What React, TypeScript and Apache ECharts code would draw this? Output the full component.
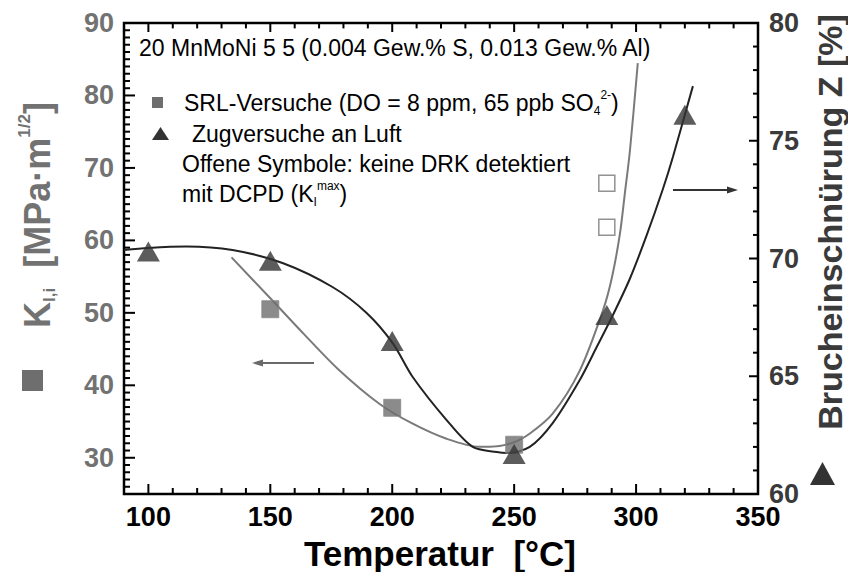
import React, { useEffect, useRef } from 'react';
import * as echarts from 'echarts';

// ---- tick labels / tick positions ----
const xTicksMajor = [100, 150, 200, 250, 300, 350];
const xTicksMinor = [110, 120, 130, 140, 160, 170, 180, 190, 210, 220, 230, 240, 260, 270, 280, 290, 310, 320, 330, 340];
const kTicksMajor = [30, 40, 50, 60, 70, 80, 90];
const zTicksMajor = [60, 65, 70, 75, 80];

// ---- SRL tests (K_I,i, left axis) ----
const srlTemp = [150, 200, 250];
const srlK = [50.5, 36.9, 31.8];
const srlOpenTemp = [288, 288];
const srlOpenK = [67.9, 61.8];

// ---- tensile tests in air (Z, right axis) ----
const zugTemp = [100, 150, 200, 250, 288, 320];
const zugZ = [70.3, 69.9, 66.5, 61.7, 67.6, 76.1];

// ---- fitted curves ----
const srlFitTemp = [134.1, 150.1, 164.0, 177.6, 194.7, 208.4, 222.3, 235.9, 240.0, 249.4, 256.3, 265.8, 276.9, 286.4, 290.1, 293.4, 295.4, 297.5, 300.7];
const srlFitK = [57.65, 51.98, 47.0, 42.3, 37.46, 34.7, 32.62, 31.52, 31.52, 32.07, 33.31, 36.08, 42.03, 50.32, 54.88, 60.97, 66.5, 72.44, 84.47];
const zugFitTemp = [90, 100, 115.6, 134.5, 155.0, 175.5, 189.5, 200.2, 208.4, 222.3, 233.0, 242.9, 247.0, 256.4, 265.8, 276.9, 283.9, 290.5, 297.4, 304.4, 311.0, 315.1, 323.3];
const zugFitZ = [70.36, 70.45, 70.51, 70.36, 69.81, 68.79, 67.69, 66.41, 64.97, 63.14, 62.0, 61.78, 61.74, 62.0, 63.01, 64.84, 66.25, 67.6, 69.13, 71.0, 72.95, 74.31, 77.32];

const FONT = 'Liberation Sans, Arial, sans-serif';
const GREY = '#727272';
const DARK = '#333333';
const X_MIN = 90, X_MAX = 350, K_MIN = 25, K_MAX = 90, Z_MIN = 60, Z_MAX = 80;

const zip = (a: number[], b: number[]) => a.map((v, i) => [v, b[i]]);
function wholeStepsExcept(a: number, b: number, skip: number[]) {
  const r: number[] = [];
  for (let v = a; v <= b; v += 1) if (skip.indexOf(v) < 0) r.push(v);
  return r;
}
const kTicksMinor = wholeStepsExcept(K_MIN, K_MAX, kTicksMajor);
const zTicksMinor = wholeStepsExcept(Z_MIN, Z_MAX, zTicksMajor);

const tickStyle = { stroke: '#000', lineWidth: 2 };
const seg = (x1: number, y1: number, x2: number, y2: number) => ({ type: 'line', shape: { x1, y1, x2, y2 }, style: tickStyle });

// ticks of the x axes (bottom + top) and the left K axis, placed with the axes' scales
function renderKTicks(_params: any, api: any) {
  const children: any[] = [];
  const xt = (list: number[], len: number) => list.forEach((v) => {
    const b = api.coord([v, K_MIN]);
    const t = api.coord([v, K_MAX]);
    children.push(seg(b[0], b[1], b[0], b[1] - len));
    children.push(seg(t[0], t[1], t[0], t[1] + len * 0.9));
  });
  xt(xTicksMajor, 10);
  xt(xTicksMinor, 6);
  const yt = (list: number[], len: number) => list.forEach((v) => {
    const p = api.coord([X_MIN, v]);
    children.push(seg(p[0], p[1], p[0] + len, p[1]));
  });
  yt(kTicksMajor, 11);
  yt(kTicksMinor, 6);
  return { type: 'group', children };
}
// ticks of the right Z axis
function renderZTicks(_params: any, api: any) {
  const children: any[] = [];
  const yt = (list: number[], len: number) => list.forEach((v) => {
    const p = api.coord([X_MAX, v]);
    children.push(seg(p[0], p[1], p[0] - len, p[1]));
  });
  yt(zTicksMajor, 9);
  yt(zTicksMinor, 5);
  return { type: 'group', children };
}

const textLine = (x: number, y: number, text: string) => ({
  type: 'text', x, y, z: 100,
  style: {
    text, fill: '#000', fontSize: 23, fontFamily: FONT, align: 'left', verticalAlign: 'middle', lineHeight: 28,
    rich: {
      sub: { fontSize: 12, fontFamily: FONT, lineHeight: 12, verticalAlign: 'bottom', fill: '#000' },
      sup: { fontSize: 12, fontFamily: FONT, lineHeight: 12, verticalAlign: 'top', fill: '#000' },
    },
  },
});

const hiddenAxisParts = { splitLine: { show: false }, axisLine: { show: false, onZero: false }, axisTick: { show: false } };

const option: any = {
  animation: false,
  backgroundColor: '#fff',
  grid: { left: 124, right: 90, top: 23, bottom: 78, show: true, borderColor: '#000', borderWidth: 2.5, backgroundColor: 'transparent' },
  xAxis: [
    {
      type: 'value', min: X_MIN, max: X_MAX, position: 'bottom', ...hiddenAxisParts,
      axisLabel: { customValues: xTicksMajor, color: '#000', fontSize: 27, fontWeight: 'bold', fontFamily: FONT, margin: 9 },
    },
  ],
  yAxis: [
    {
      type: 'value', min: K_MIN, max: K_MAX, position: 'left', ...hiddenAxisParts,
      axisLabel: { customValues: kTicksMajor, color: GREY, fontSize: 27, fontWeight: 'bold', fontFamily: FONT, margin: 10 },
    },
    {
      type: 'value', min: Z_MIN, max: Z_MAX, position: 'right', ...hiddenAxisParts,
      axisLabel: { customValues: zTicksMajor, color: '#3a3a3a', fontSize: 27, fontWeight: 'bold', fontFamily: FONT, margin: 11 },
    },
  ],
  series: [
    // axis ticks
    { type: 'custom', xAxisIndex: 0, yAxisIndex: 0, data: [[X_MIN, K_MIN]], renderItem: renderKTicks, silent: true, clip: false, z: 3 },
    { type: 'custom', xAxisIndex: 0, yAxisIndex: 1, data: [[X_MAX, Z_MIN]], renderItem: renderZTicks, silent: true, clip: false, z: 3 },
    // fitted curves
    {
      type: 'line', xAxisIndex: 0, yAxisIndex: 0, data: zip(srlFitTemp, srlFitK),
      showSymbol: false, smooth: 0.3, lineStyle: { color: '#7a7a7a', width: 2 }, z: 2,
    },
    {
      type: 'line', xAxisIndex: 0, yAxisIndex: 1, data: zip(zugFitTemp, zugFitZ),
      showSymbol: false, smooth: 0.3, lineStyle: { color: '#222', width: 2 }, z: 2,
    },
    // measured points
    {
      type: 'scatter', xAxisIndex: 0, yAxisIndex: 0, data: zip(srlTemp, srlK),
      symbol: 'rect', symbolSize: 17, itemStyle: { color: '#6e6e6e', borderColor: '#8a8a8a', borderWidth: 1 }, z: 5,
    },
    {
      type: 'scatter', xAxisIndex: 0, yAxisIndex: 0, data: zip(srlOpenTemp, srlOpenK),
      symbol: 'rect', symbolSize: 16, itemStyle: { color: '#fff', borderColor: '#777', borderWidth: 1.5 }, z: 5,
    },
    {
      type: 'scatter', xAxisIndex: 0, yAxisIndex: 1, data: zip(zugTemp, zugZ),
      symbol: 'triangle', symbolSize: [23, 20], itemStyle: { color: DARK }, z: 6,
    },
  ],
  graphic: [
    // left axis title
    {
      type: 'text', x: 37, y: 215, rotation: Math.PI / 2, z: 100,
      style: {
        text: '{m|K}{sub|I,i}{m|  [MPa·m}{sup|1/2}{m|]}',
        fill: GREY, align: 'center', verticalAlign: 'middle', fontFamily: FONT, fontWeight: 'bold', fontSize: 36,
        rich: {
          m: { fontSize: 36, fontWeight: 'bold', fontFamily: FONT, lineHeight: 42, fill: GREY },
          sub: { fontSize: 17, fontWeight: 'bold', fontFamily: FONT, lineHeight: 17, verticalAlign: 'bottom', fill: GREY },
          sup: { fontSize: 17, fontWeight: 'bold', fontFamily: FONT, lineHeight: 17, verticalAlign: 'top', fill: GREY },
        },
      },
    },
    { type: 'rect', shape: { x: 22, y: 370, width: 21, height: 21 }, style: { fill: '#6e6e6e' }, z: 100 },
    // right axis title
    {
      type: 'text', x: 830, y: 222, rotation: Math.PI / 2, z: 100,
      style: {
        text: 'Brucheinschnürung Z [%]', fill: '#3a3a3a', align: 'center', verticalAlign: 'middle',
        fontFamily: FONT, fontWeight: 'bold', fontSize: 34,
      },
    },
    { type: 'polygon', shape: { points: [[810, 485], [835, 485], [822.5, 462]] }, style: { fill: DARK }, z: 100 },
    // x axis title
    {
      type: 'text', x: 440, y: 553, z: 100,
      style: { text: 'Temperatur  [°C]', fill: '#000', align: 'center', verticalAlign: 'middle', fontFamily: FONT, fontWeight: 'bold', fontSize: 35 },
    },
    // in-plot annotation
    textLine(139, 48, '20 MnMoNi 5 5 (0.004 Gew.% S, 0.013 Gew.% Al)'),
    { type: 'rect', shape: { x: 152, y: 97, width: 11, height: 11 }, style: { fill: '#6e6e6e' }, z: 100 },
    textLine(184, 103, 'SRL-Versuche (DO = 8 ppm, 65 ppb SO{sub|4}{sup|2-})'),
    { type: 'polygon', shape: { points: [[152, 140], [169, 140], [160.5, 127]] }, style: { fill: DARK }, z: 100 },
    textLine(192, 134, 'Zugversuche an Luft'),
    textLine(182, 164, 'Offene Symbole: keine DRK detektiert'),
    textLine(182, 194, 'mit DCPD (K{sub|I}{sup|max})'),
    // arrows
    { type: 'line', shape: { x1: 673, y1: 190, x2: 730, y2: 190 }, style: { stroke: DARK, lineWidth: 2 }, z: 100 },
    { type: 'polygon', shape: { points: [[738, 190], [727, 186.5], [727, 193.5]] }, style: { fill: DARK }, z: 100 },
    { type: 'line', shape: { x1: 314, y1: 363, x2: 260, y2: 363 }, style: { stroke: '#6a6a6a', lineWidth: 2 }, z: 100 },
    { type: 'polygon', shape: { points: [[252, 363], [263, 359.5], [263, 366.5]] }, style: { fill: '#6a6a6a' }, z: 100 },
  ],
};

export default function App() {
  const ref = useRef<HTMLDivElement>(null);
  useEffect(() => {
    document.body.style.margin = '0';
    const chart = echarts.init(ref.current!, null, { renderer: 'svg' });
    chart.setOption(option);
    return () => chart.dispose();
  }, []);
  return <div ref={ref} style={{ width: 848, height: 572 }} />;
}
